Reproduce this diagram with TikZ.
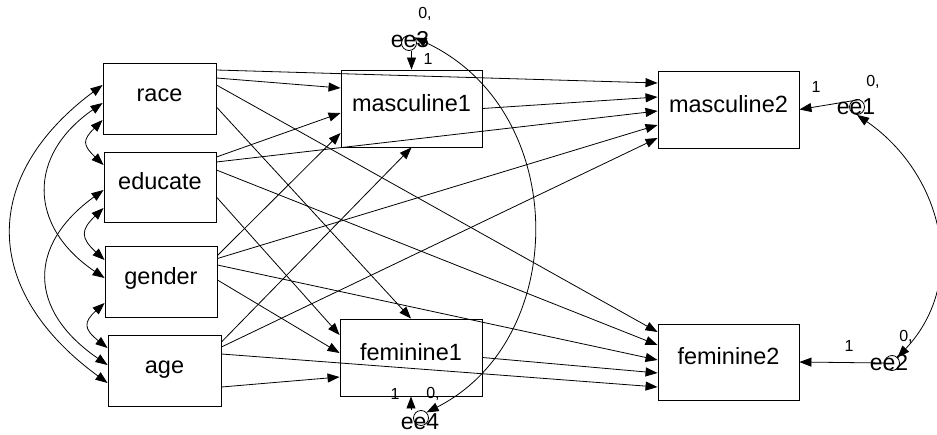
\documentclass[tikz,border=0pt]{standalone}
\usepackage{fontspec}
\setmainfont{Liberation Sans}
\usetikzlibrary{arrows.meta,calc}
\begin{document}
\begin{tikzpicture}[x=1pt,y=-1pt,
  box/.style={draw=black,line width=0.9pt,inner sep=0pt,text height=0.73em,text depth=0.21em,font=\fontsize{23.5}{28}\selectfont},
  err/.style={circle,draw=black,line width=0.8pt,minimum size=15pt,inner sep=0pt},
  lab/.style={inner sep=0pt,font=\fontsize{23}{28}\selectfont},
  small/.style={inner sep=0pt,font=\fontsize{16}{19}\selectfont},
  arr/.style={line width=0.8pt,-{Triangle[length=12pt,width=9pt]}},
  cov/.style={line width=0.8pt,{Triangle[length=12pt,width=9pt]}-{Triangle[length=12pt,width=9pt]}}
]
\useasboundingbox (0,0) rectangle (937,434);

% boxes
\node[box,minimum width=113pt,minimum height=71pt] (race) at (159.5,98.5) {race};
\node[box,minimum width=112pt,minimum height=70pt] (educate) at (160,187) {educate};
\node[box,minimum width=112pt,minimum height=71pt] (gender) at (161,281.5) {gender};
\node[box,minimum width=113pt,minimum height=71pt] (age) at (164.5,370.5) {age};
\node[box,minimum width=141pt,minimum height=77pt] (m1) at (411.5,108.5) {masculine1};
\node[box,minimum width=142pt,minimum height=77pt] (f1) at (411,357.5) {feminine1};
\node[box,minimum width=141pt,minimum height=77pt] (m2) at (728.5,109.5) {masculine2};
\node[box,minimum width=141pt,minimum height=76pt] (f2) at (728.5,362) {feminine2};

% error terms
\node[err] (e1) at (857,107) {};
\node[lab] (e1t) at (856,107) {ee1};
\node[small] (e1z) at (873,82) {0,};
\node[small] (e1o) at (816,87) {1};

\node[err] (e2) at (892,363) {};
\node[lab] (e2t) at (889,363) {ee2};
\node[small] (e2z) at (906,337) {0,};
\node[small] (e2o) at (849,346) {1};

\node[err] (e3) at (409,43) {};
\node[lab] (e3t) at (410,40) {ee3};
\node[small] (e3z) at (425,14) {0,};
\node[small] (e3o) at (428,59) {1};

\node[err] (e4) at (421,418) {};
\node[lab] (e4t) at (420,422) {ee4};
\node[small] (e4z) at (433,394) {0,};
\node[small] (e4o) at (395,394) {1};

% regressions: race
\draw[arr] ($(race.east)+(0,-28.5)$) -- ($(m2.west)+(0,-26.5)$);
\draw[arr] ($(race.east)+(0,-20.5)$) -- ($(m1.west)+(0,-20.5)$);
\draw[arr] ($(race.east)+(0,-13.5)$) -- ($(f2.west)+(0,-30)$);
\draw[arr] ($(race.east)+(0,8.5)$) -- (f1.north);
% educate
\draw[arr] ($(educate.east)+(0,-30)$) -- ($(m1.west)+(0,4.5)$);
\draw[arr] ($(educate.east)+(0,-25)$) -- ($(m2.west)+(0,1.5)$);
\draw[arr] ($(educate.east)+(0,-17)$) -- ($(f2.west)+(0,-17)$);
\draw[arr] ($(educate.east)+(0,10)$) -- ($(f1.west)+(0,-22.5)$);
% gender
\draw[arr] ($(gender.east)+(0,-26)$) -- ($(m1.west)+(0,24.5)$);
\draw[arr] ($(gender.east)+(0,-23)$) -- ($(m2.west)+(0,15.5)$);
\draw[arr] ($(gender.east)+(0,-16.5)$) -- ($(f2.west)+(0,-2)$);
\draw[arr] ($(gender.east)+(0,-1.5)$) -- ($(f1.west)+(0,-4.5)$);
% age
\draw[arr] ($(age.east)+(0,-28.5)$) -- (m1.south);
\draw[arr] ($(age.east)+(0,-23.5)$) -- ($(m2.west)+(0,28.5)$);
\draw[arr] ($(age.east)+(0,-16.5)$) -- ($(f2.west)+(0,25)$);
\draw[arr] ($(age.east)+(0,16.5)$) -- ($(f1.west)+(0,19.5)$);
% mediators
\draw[arr] (m1.east) -- ($(m2.west)+(0,-12.5)$);
\draw[arr] (f1.east) -- ($(f2.west)+(0,11)$);

% error paths
\draw[arr] (e1.70) -- (m2.east);
\draw[arr] (e2.west) -- (f2.east);
\draw[arr] (m1.north |- e3.south) -- (m1.north);
\draw[arr] (f1.south |- e4.north) -- (f1.south);

% error covariances
\draw[cov] (e3.45) .. controls +(156,72) and +(144,-73) .. (e4.45);
\draw[cov] (e1.south) .. controls +(83,57) and +(73,-78) .. (e2.45);

% exogenous covariances
\draw[cov] ($(race.west)+(0,-13.5)$) .. controls +(-122,91) and +(-127,-93) .. ($(age.west)+(0,12.5)$);
\draw[cov] ($(race.west)+(0,4.5)$) .. controls +(-75,52) and +(-77,-52) .. ($(gender.west)+(0,-3.5)$);
\draw[cov] ($(race.west)+(0,21.5)$) .. controls +(-20,20) and +(-21,-20) .. ($(educate.west)+(0,-22)$);
\draw[cov] ($(educate.west)+(0,3)$) .. controls +(-76,55) and +(-80,-55) .. ($(age.west)+(0,-5.5)$);
\draw[cov] ($(educate.west)+(0,21)$) .. controls +(-23,22) and +(-24,-22) .. ($(gender.west)+(0,-21.5)$);
\draw[cov] ($(gender.west)+(0,21.5)$) .. controls +(-21,19) and +(-24,-19) .. ($(age.west)+(0,-22.5)$);
\end{tikzpicture}
\end{document}
